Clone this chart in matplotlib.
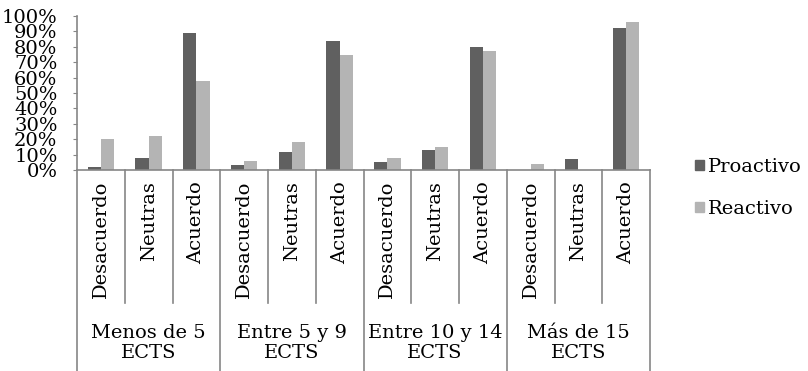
import matplotlib
matplotlib.use('Agg')
import matplotlib.pyplot as plt
import matplotlib.transforms as mtransforms
from matplotlib.patches import Patch
import numpy as np

groups = ['Menos de 5\nECTS', 'Entre 5 y 9\nECTS', 'Entre 10 y 14\nECTS', 'Más de 15\nECTS']
answers = ['Desacuerdo', 'Neutras', 'Acuerdo']
proactivo = [2, 8, 89, 3, 12, 84, 5, 13, 80, 0, 7, 92]
reactivo = [20, 22, 58, 6, 18, 75, 8, 15, 77, 4, 0, 96]
yticks = [0, 10, 20, 30, 40, 50, 60, 70, 80, 90, 100]

plt.rcParams['font.family'] = ['DejaVu Serif']
fs = 14
axis_col = '#868686'

fig = plt.figure(figsize=(8.08, 3.71), dpi=100)
ax = fig.add_axes([77 / 808, 1 - 170 / 371, 573 / 808, 154 / 371])

x = np.arange(len(proactivo))
w = 0.28
ax.bar(x - w / 2, proactivo, w, color='#606060', label='Proactivo')
ax.bar(x + w / 2, reactivo, w, color='#b4b4b4', label='Reactivo')

ax.set_xlim(-0.5, len(x) - 0.5)
ax.set_ylim(0, 100)
ax.set_yticks(yticks)
ax.set_yticklabels(['%d%%' % v for v in yticks], fontsize=fs)
ax.tick_params(axis='y', length=3, color=axis_col, pad=11)
ax.set_xticks([])
for side in ['top', 'right']:
    ax.spines[side].set_visible(False)
for side in ['left', 'bottom']:
    ax.spines[side].set_color(axis_col)
    ax.spines[side].set_linewidth(1.2)

# category separators below the axis
trans = mtransforms.blended_transform_factory(ax.transData, fig.transFigure)
y_axis = 1 - 170 / 371
y_inner = 1 - 303 / 371
for i in range(len(x) + 1):
    pos = i - 0.5
    y_end = 0 if i % 3 == 0 else y_inner
    ax.plot([pos, pos], [y_axis, y_end], color=axis_col, lw=1.2,
            transform=trans, clip_on=False)

for i in x:
    ax.text(i, 1 - 181 / 371, answers[i % 3], rotation=90, ha='center', va='top',
            fontsize=fs, transform=trans)

for g, name in enumerate(groups):
    ax.text(3 * g + 1, 1 - 343 / 371, name, ha='center', va='center',
            fontsize=fs, linespacing=1.2, transform=trans)

fig.legend(handles=[Patch(color='#606060', label='Proactivo'),
                    Patch(color='#b4b4b4', label='Reactivo')],
           loc='center left', bbox_to_anchor=(695 / 808, 1 - 188 / 371),
           frameon=False, fontsize=fs, handlelength=0.45, handleheight=0.45,
           handletextpad=0.2, labelspacing=1.25, borderpad=0, borderaxespad=0)

fig.savefig('out.png', dpi=100)
